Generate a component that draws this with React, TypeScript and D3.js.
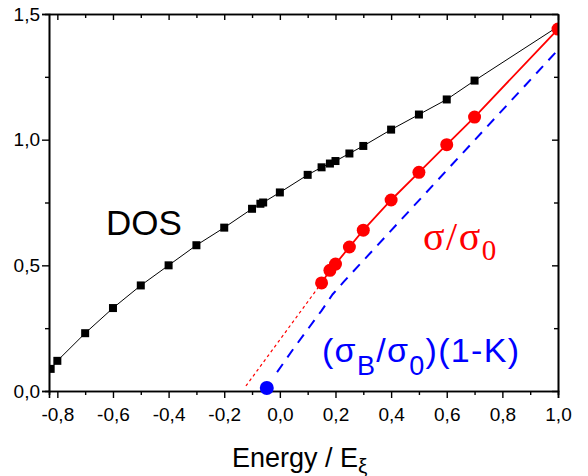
import React, { useEffect, useRef } from 'react';
import * as d3 from 'd3';

const W = 588;
const H = 476;

// DOS (black squares)
const dosX = [-0.824, -0.8, -0.7, -0.6, -0.5, -0.4, -0.3, -0.2, -0.1, -0.07, -0.06, 0.0, 0.1, 0.15, 0.18, 0.2, 0.25, 0.3, 0.4, 0.5, 0.6, 0.7, 1.0];
const dosY = [0.088, 0.12, 0.23, 0.33, 0.42, 0.50, 0.58, 0.65, 0.725, 0.745, 0.75, 0.79, 0.86, 0.89, 0.905, 0.915, 0.945, 0.975, 1.04, 1.10, 1.16, 1.235, 1.45];

// sigma / sigma0 (red circles)
const sigX = [0.15, 0.18, 0.2, 0.25, 0.3, 0.4, 0.5, 0.6, 0.7, 1.0];
const sigY = [0.43, 0.48, 0.505, 0.573, 0.64, 0.76, 0.87, 0.98, 1.09, 1.44];

// red dotted extrapolation
const extX = [-0.122, 0.15];
const extY = [0.02, 0.43];

// (sigmaB/sigma0)(1-K) blue dashed
const blueX = [-0.01, 0.05, 0.1, 0.15, 0.19, 0.23, 1.0];
const blueY = [0.075, 0.17, 0.245, 0.32, 0.385, 0.435, 1.357];

// blue dot
const dotX = [-0.047];
const dotY = [0.012];

const xMajor = [-0.8, -0.6, -0.4, -0.2, 0.0, 0.2, 0.4, 0.6, 0.8, 1.0];
const xMinor = [-0.7, -0.5, -0.3, -0.1, 0.1, 0.3, 0.5, 0.7, 0.9];
const yMajor = [0.0, 0.5, 1.0, 1.5];
const yMinor = [0.25, 0.75, 1.25];

const fmt = (d: number) => d3.format('.1f')(d).replace('.', ',').replace('\u2212', '-');

export default function App() {
  const ref = useRef<SVGSVGElement | null>(null);

  useEffect(() => {
    const svg = d3.select(ref.current);
    svg.selectAll('*').remove();

    const x = d3.scaleLinear().domain([-0.83, 1.0]).range([49, 558]);
    const y = d3.scaleLinear().domain([0, 1.5]).range([391, 14]);

    const font = 'Liberation Sans, Arial, sans-serif';

    svg.append('defs').append('clipPath').attr('id', 'plotclip')
      .append('rect').attr('x', 49).attr('y', 14).attr('width', 509).attr('height', 377);

    const plot = svg.append('g').attr('clip-path', 'url(#plotclip)');

    const line = d3.line<[number, number]>().x(d => x(d[0])).y(d => y(d[1]));

    // DOS line
    const dos: [number, number][] = dosX.map((v, i) => [v, dosY[i]]);
    plot.append('path').attr('d', line(dos)).attr('fill', 'none').attr('stroke', '#000').attr('stroke-width', 1);
    plot.selectAll('rect.dos').data(dos.slice(0, dos.length - 1)).enter().append('rect')
      .attr('x', d => x(d[0]) - 4).attr('y', d => y(d[1]) - 4)
      .attr('width', 8).attr('height', 8).attr('fill', '#000');

    // red dotted
    const ext: [number, number][] = extX.map((v, i) => [v, extY[i]]);
    plot.append('path').attr('d', line(ext)).attr('fill', 'none').attr('stroke', '#ff0000')
      .attr('stroke-width', 1.2).attr('stroke-dasharray', '3,3');

    // blue dashed
    const blue: [number, number][] = blueX.map((v, i) => [v, blueY[i]]);
    plot.append('path').attr('d', line(blue)).attr('fill', 'none').attr('stroke', '#0000ff')
      .attr('stroke-width', 2).attr('stroke-dasharray', '10,8');

    // red line + circles
    const sig: [number, number][] = sigX.map((v, i) => [v, sigY[i]]);
    plot.append('path').attr('d', line(sig)).attr('fill', 'none').attr('stroke', '#ff0000').attr('stroke-width', 1.8);
    plot.selectAll('circle.sig').data(sig).enter().append('circle')
      .attr('cx', d => x(d[0])).attr('cy', d => y(d[1])).attr('r', 6.5).attr('fill', '#ff0000');

    // axes frame
    const axisG = svg.append('g');
    const bottom = d3.axisBottom(x).tickValues(xMajor).tickSize(7).tickFormat(d => fmt(d as number));
    const bottomMinor = d3.axisBottom(x).tickValues(xMinor).tickSize(4).tickFormat(() => '');
    const top = d3.axisTop(x).tickValues(xMajor).tickSizeInner(-6).tickSizeOuter(0).tickFormat(() => '');
    const topMinor = d3.axisTop(x).tickValues(xMinor).tickSizeInner(-4).tickSizeOuter(0).tickFormat(() => '');
    const left = d3.axisLeft(y).tickValues(yMajor).tickSize(7).tickFormat(d => fmt(d as number));
    const leftMinor = d3.axisLeft(y).tickValues(yMinor).tickSize(4).tickFormat(() => '');
    const right = d3.axisRight(y).tickValues(yMajor).tickSizeInner(-6).tickSizeOuter(0).tickFormat(() => '');
    const rightMinor = d3.axisRight(y).tickValues(yMinor).tickSizeInner(-4).tickSizeOuter(0).tickFormat(() => '');

    const gb = axisG.append('g').attr('transform', 'translate(0,391)').call(bottom);
    axisG.append('g').attr('transform', 'translate(0,391)').call(bottomMinor);
    axisG.append('g').attr('transform', 'translate(0,14)').call(top);
    axisG.append('g').attr('transform', 'translate(0,14)').call(topMinor);
    const gl = axisG.append('g').attr('transform', 'translate(49,0)').call(left);
    axisG.append('g').attr('transform', 'translate(49,0)').call(leftMinor);
    axisG.append('g').attr('transform', 'translate(558,0)').call(right);
    axisG.append('g').attr('transform', 'translate(558,0)').call(rightMinor);

    axisG.selectAll('path.domain').attr('stroke', '#000').attr('stroke-width', 1.6);
    axisG.selectAll('.tick line').attr('stroke', '#000').attr('stroke-width', 1.4);
    gb.selectAll('.tick text').attr('font-family', font).attr('font-size', 19).attr('fill', '#000').attr('dy', '1.05em');
    gl.selectAll('.tick text').attr('font-family', font).attr('font-size', 19).attr('fill', '#000').attr('x', -9);
    axisG.selectAll('path.domain').attr('fill', 'none');

    // blue dot (not clipped)
    svg.selectAll('circle.dot').data(dotX.map((v, i) => [v, dotY[i]])).enter().append('circle')
      .attr('cx', d => x(d[0])).attr('cy', d => y(d[1])).attr('r', 7).attr('fill', '#0000ff');

    // labels
    svg.append('text').attr('x', 106).attr('y', 235).attr('font-family', font).attr('font-size', 35)
      .attr('fill', '#000').text('DOS');

    const sg = svg.append('text').attr('x', 423).attr('y', 250).attr('font-family', 'Liberation Serif, Times New Roman, serif')
      .attr('font-size', 40).attr('letter-spacing', 1.5).attr('fill', '#ff0000');
    sg.append('tspan').text('\u03c3/\u03c3');
    sg.append('tspan').attr('dy', 10).attr('font-size', 29).text('0');

    const bt = svg.append('text').attr('x', 322).attr('y', 362).attr('font-family', font)
      .attr('font-size', 34).attr('letter-spacing', 1.3).attr('fill', '#0000ff');
    bt.append('tspan').text('(\u03c3');
    bt.append('tspan').attr('dy', 13).attr('font-size', 27).text('B');
    bt.append('tspan').attr('dy', -13).text('/\u03c3');
    bt.append('tspan').attr('dy', 13).attr('font-size', 27).text('0');
    bt.append('tspan').attr('dy', -13).text(')(1-K)');

    const xl = svg.append('text').attr('x', 232).attr('y', 467)
      .attr('font-family', font).attr('font-size', 27).attr('fill', '#000');
    xl.append('tspan').text('Energy / E');
    xl.append('tspan').attr('dy', 6).attr('font-size', 21).text('\u03be');
  }, []);

  return (
    <svg ref={ref} width={W} height={H}
      style={{ position: 'absolute', left: 0, top: 0, background: '#fff' }} />
  );
}
